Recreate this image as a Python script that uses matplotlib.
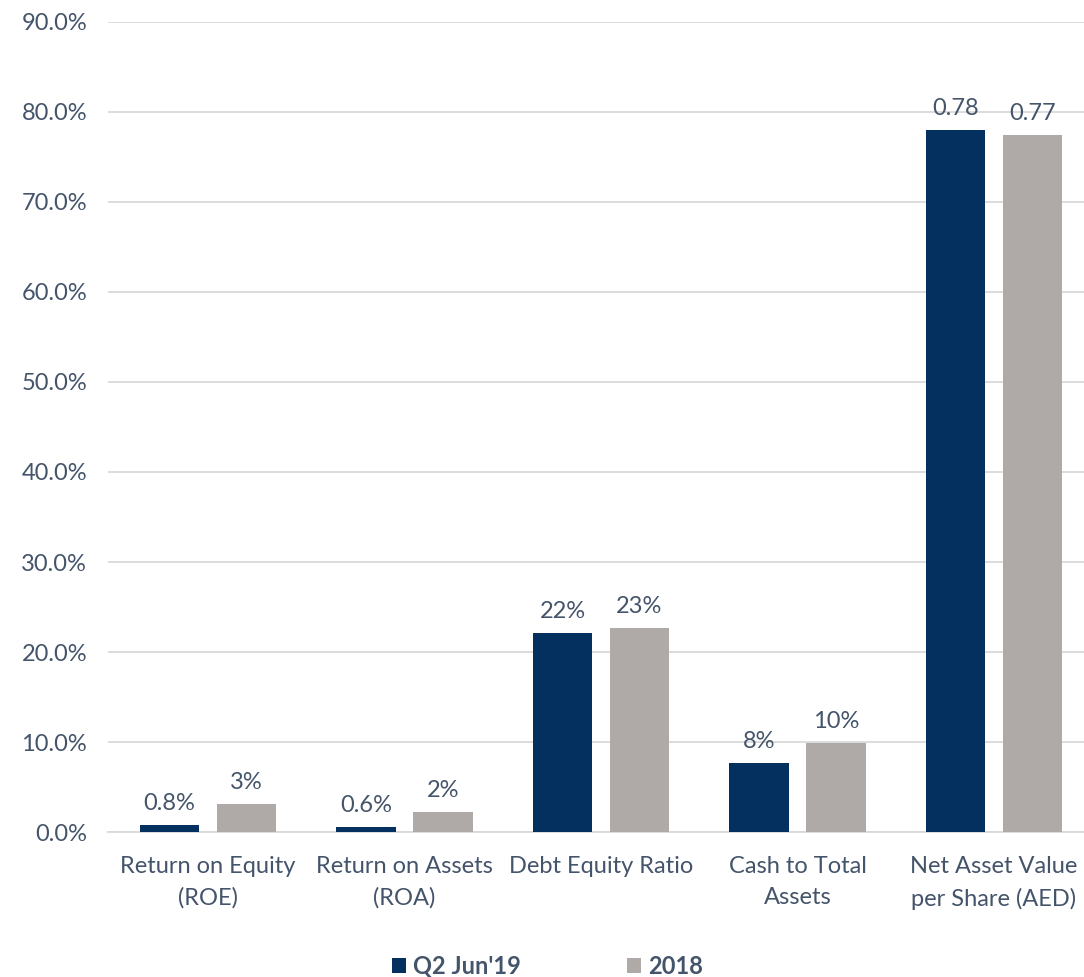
import matplotlib
matplotlib.use("Agg")
import matplotlib.pyplot as plt
import numpy as np
from matplotlib.ticker import PercentFormatter

categories = ["Return on Equity\n(ROE)", "Return on Assets\n(ROA)", "Debt Equity Ratio",
              "Cash to Total\nAssets", "Net Asset Value\nper Share (AED)"]
series_names = ["Q2 Jun'19", "2018"]
q2_values = [0.008, 0.006, 0.221, 0.077, 0.780]
y2018_values = [0.031, 0.022, 0.227, 0.099, 0.774]
q2_labels = ["0.8%", "0.6%", "22%", "8%", "0.78"]
y2018_labels = ["3%", "2%", "23%", "10%", "0.77"]

navy = "#03305E"
grey = "#AFAAA8"
txt = "#44546A"

plt.rcParams['font.family'] = ['Lato', 'DejaVu Sans']

fig = plt.figure(figsize=(10.84, 9.77), dpi=100)
ax = fig.add_axes([0.0996, 0.1484, 0.9004, 0.8291])

x = np.arange(len(categories))
w = 0.305
off = 0.196
b1 = ax.bar(x - off, q2_values, w, color=navy, label=series_names[0], zorder=3)
b2 = ax.bar(x + off, y2018_values, w, color=grey, label=series_names[1], zorder=3)

for bars, labs in ((b1, q2_labels), (b2, y2018_labels)):
    for r, lab in zip(bars, labs):
        ax.annotate(lab, (r.get_x() + r.get_width() / 2, r.get_height()),
                    xytext=(0, 8), textcoords="offset points", ha="center", va="bottom",
                    fontsize=17, color=txt)

ax.set_ylim(0, 0.9)
ax.set_xlim(-0.509, 4.458)
ax.set_yticks(np.arange(0, 0.91, 0.1))
ax.yaxis.set_major_formatter(PercentFormatter(1.0, decimals=1))
ax.set_xticks(x)
ax.set_xticklabels(categories, linespacing=1.6)
ax.tick_params(axis="both", length=0, labelsize=17, labelcolor=txt)
ax.tick_params(axis="y", pad=15)
ax.tick_params(axis="x", pad=17)
ax.grid(axis="y", color="#D9D9D9", linewidth=1.3, zorder=0)
for s in ["top", "right", "left"]:
    ax.spines[s].set_visible(False)
ax.spines["bottom"].set_color("#D9D9D9")
ax.spines["bottom"].set_linewidth(1.3)

leg = fig.legend(handles=[b1, b2], labels=series_names, loc="center", bbox_to_anchor=(0.505, 0.011),
                 ncol=2, frameon=False, handlelength=0.6, handleheight=0.6, columnspacing=4.5,
                 handletextpad=0.3, prop={"size": 17, "weight": "bold"})
for t in leg.get_texts():
    t.set_color(txt)

fig.savefig("out.png", dpi=100)
